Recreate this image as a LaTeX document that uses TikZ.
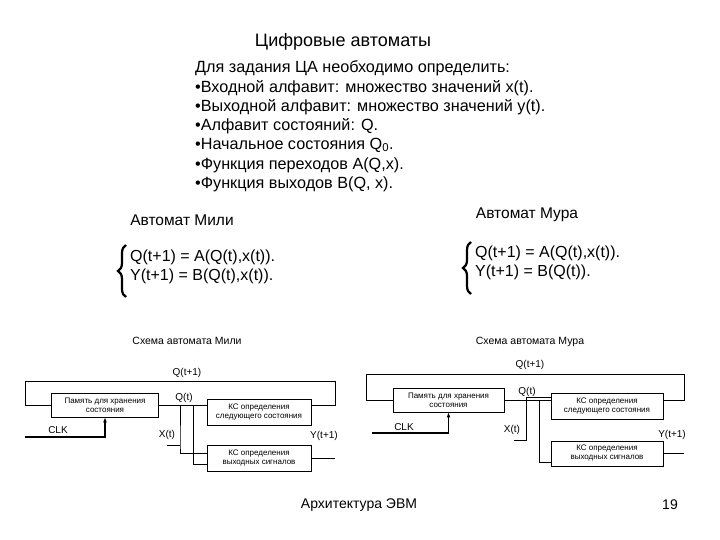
\documentclass[tikz,border=0pt]{standalone}
\usepackage{fontspec}
\setmainfont{Liberation Sans}
\usetikzlibrary{arrows.meta,decorations.pathreplacing}

\tikzset{
    blk/.style={draw, fill=white, line width=0.7pt, align=center, inner sep=0pt,
        font=\fontsize{8}{9}\selectfont},
    wire/.style={line width=0.7pt},
    clkwire/.style={line width=1.4pt, -{Latex[length=5pt,width=4pt]}},
    lbl/.style={inner sep=0pt, font=\fontsize{10}{12}\selectfont},
    body/.style={anchor=west, inner sep=0pt, font=\fontsize{16.2}{19}\selectfont},
    eqn/.style={anchor=west, inner sep=0pt, align=left, font=\fontsize{16}{19}\selectfont},
    bigbrace/.style={line width=2.2pt, decorate, decoration={brace, amplitude=8pt}},
}

\begin{document}
\begin{tikzpicture}[x=1pt, y=-1pt]
    \useasboundingbox (0,0) rectangle (720,540);

    % Title and definition list
    \node[font=\fontsize{18}{22}\selectfont] (title) at (343,42) {Цифровые автоматы};
    \foreach \y/\txt in {
        68/{Для задания ЦА необходимо определить:},
        88/{•Входной алфавит: множество значений x(t).},
        107/{•Выходной алфавит: множество значений y(t).},
        126/{•Алфавит состояний: Q.},
        145/{•Начальное состояния Q\textsubscript{0}.},
        165/{•Функция переходов A(Q,x).},
        184/{•Функция выходов B(Q, x).}
    }{
        \node[body] (def\y) at (195,\y) {\txt};
    }

    % Mealy and Moore equations
    \node[font=\fontsize{15.5}{18}\selectfont] (mealyhead) at (182,220) {Автомат Мили};
    \node[font=\fontsize{15.5}{18}\selectfont] (moorehead) at (527,215) {Автомат Мура};
    \draw[bigbrace] (126,297) -- (126,245);
    \node[eqn] (mealyeq) at (130,266.5)
        {Q(t+1) = A(Q(t),x(t)).\\Y(t+1) = B(Q(t),x(t)).};
    \draw[bigbrace] (471,294) -- (471,242);
    \node[eqn] (mooreeq) at (475,262.5)
        {Q(t+1) = A(Q(t),x(t)).\\Y(t+1) = B(Q(t)).};

    % Mealy scheme
    \node[font=\fontsize{10.5}{12}\selectfont] (mealycap) at (187,341) {Схема автомата Мили};
    \node[blk, minimum width=107, minimum height=24] (mmem) at (105,405)
        {Память для хранения\\состояния};
    \node[blk, minimum width=104, minimum height=26] (mnxt) at (259,412)
        {КС определения\\следующего состояния};
    \node[blk, minimum width=104, minimum height=26] (mout) at (259,458)
        {КС определения\\выходных сигналов};
    \coordinate (mtl) at (25,381);
    \coordinate (mtr) at (335,381);
    \coordinate (mqb) at (193,405);
    \coordinate (mxin) at (167,445);
    \coordinate (mxb) at (180,445);
    \coordinate (myout) at (335,458);
    \coordinate (mclk) at (25,437);
    \draw[wire] (mmem.west) -| (mtl) -- (mtr) |- (mnxt.east |- mmem.east);
    \draw[wire] (mmem.east) -- (mnxt.west |- mmem.east);
    \draw[wire] (mqb) |- ([yshift=-6]mout.west);
    \draw[wire] (mxin) -- (mxb);
    \draw[wire] ([yshift=7]mnxt.west) -| (mxb) |- ([yshift=5]mout.west);
    \draw[wire] (mout.east) -- (myout);
    \draw[clkwire] (mclk) -| (mmem.south);
    \node[lbl] (mqn) at (187,373) {Q(t+1)};
    \node[lbl] (mqt) at (184,398) {Q(t)};
    \node[lbl] (mxt) at (167,435) {X(t)};
    \node[lbl] (myt) at (324,436) {Y(t+1)};
    \node[lbl] (mck) at (58,430) {CLK};

    % Moore scheme
    \node[font=\fontsize{10.5}{12}\selectfont] (moorecap) at (530,342) {Схема автомата Мура};
    \node[blk, minimum width=111, minimum height=24] (nmem) at (448.5,400)
        {Память для хранения\\состояния};
    \node[blk, minimum width=112, minimum height=26] (nnxt) at (607,406)
        {КС определения\\следующего состояния};
    \node[blk, minimum width=112, minimum height=25] (nout) at (607,453.5)
        {КС определения\\выходных сигналов};
    \coordinate (ntl) at (366,374);
    \coordinate (ntr) at (684,374);
    \coordinate (nqb) at (539,400);
    \coordinate (nxin) at (514,440);
    \coordinate (nxb) at (526,440);
    \coordinate (nyout) at (684,453.5);
    \coordinate (nclk) at (372,433);
    \draw[wire] (nmem.west) -| (ntl) -- (ntr) |- (nnxt.east |- nmem.east);
    \draw[wire] (nmem.east) -- (nnxt.west |- nmem.east);
    \draw[wire] (nqb) |- ([yshift=-8.5]nout.west);
    \draw[wire] (nxin) -- (nxb) |- ([yshift=9]nnxt.west);
    \draw[wire] (nout.east) -- (nyout);
    \draw[clkwire] (nclk) -| (nmem.south);
    \node[lbl] (nqn) at (530,365) {Q(t+1)};
    \node[lbl] (nqt) at (527,392) {Q(t)};
    \node[lbl] (nxt) at (512,430) {X(t)};
    \node[lbl] (nyt) at (672,435) {Y(t+1)};
    \node[lbl] (nck) at (404,427) {CLK};

    % Footer
    \node[font=\fontsize{14}{17}\selectfont] (foot) at (359,505) {Архитектура ЭВМ};
    \node[font=\fontsize{14}{17}\selectfont] (pnum) at (670,505) {19};
\end{tikzpicture}
\end{document}
